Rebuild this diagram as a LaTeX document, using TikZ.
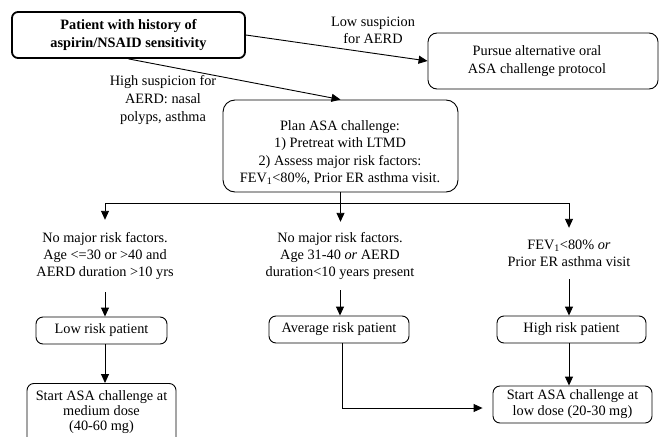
\documentclass[tikz,border=0pt]{standalone}
\usepackage{fontspec}
\setmainfont{Liberation Serif}[BoldFont={Liberation Serif Bold},ItalicFont={Liberation Serif Italic}]
\usetikzlibrary{arrows.meta}
\begin{document}
\begin{tikzpicture}[x=1pt,y=-1pt,
  every node/.style={font=\fontsize{14.3}{17.3}\selectfont, align=center, inner sep=0pt},
  box/.style={draw, line width=0.9pt, rounded corners=7pt},
  conn/.style={line width=0.9pt, -{Triangle[length=9pt,width=8pt]}},
  plainline/.style={line width=0.9pt}]
\useasboundingbox (0,0) rectangle (660,436);

% top row
\node[box, line width=1.8pt, rounded corners=6pt, minimum width=233pt, minimum height=46pt,
      font=\fontsize{14.3}{18}\selectfont\bfseries] (top) at (128.5,35)
      {Patient with history of\\aspirin/NSAID sensitivity};
\node[box, rounded corners=9pt, minimum width=230pt, minimum height=56pt] (alt) at (543,61)
      {Pursue alternative oral\hspace*{12pt}\\ASA challenge protocol\hspace*{12pt}};
\node[box, rounded corners=12pt, minimum width=235pt, minimum height=92pt] (plan) at (340.5,146) {};
\node (plantext) at (340,152.5)
      {Plan ASA challenge:\\1) Pretreat with LTMD\\2) Assess major risk factors:\\FEV\textsubscript{1}<80\%, Prior ER asthma visit.};

\node (lowlab) at (373,30) {Low suspicion\\for AERD};
\node[font=\fontsize{14.3}{18}\selectfont] (highlab) at (163,100) {High suspicion for\\AERD: nasal\\polyps, asthma};

% criteria texts
\node[minimum height=72pt] (lowT) at (105,256) {No major risk factors.\\Age <=30 or >40 and\\AERD duration >10 yrs};
\node[minimum height=68pt] (midT) at (340,256) {No major risk factors.\\Age 31-40 \textit{or} AERD\\duration<10 years present};
\node[minimum height=51pt] (highT) at (569,253.5) {FEV\textsubscript{1}<80\% \textit{or}\\Prior ER asthma visit};

% risk boxes
\node[box, minimum width=131pt, minimum height=27pt] (low) at (101.5,330.5) {Low risk patient};
\node[box, minimum width=140pt, minimum height=27pt] (avg) at (339,329.5) {Average risk patient};
\node[box, minimum width=149pt, minimum height=27pt] (high) at (571.5,329.5) {High risk patient};

% dose boxes
\node[box, minimum width=149pt, minimum height=70pt, anchor=north] (med) at (101.5,383) {};
\node[font=\fontsize{14.3}{15}\selectfont] (medT) at (101.5,412) {Start ASA challenge at\\medium dose\\(40-60 mg)};
\node[box, minimum width=159pt, minimum height=37pt, font=\fontsize{14.3}{16}\selectfont] (lowd) at (572.5,404.5)
      {Start ASA challenge at\\low dose (20-30 mg)};

% connectors
\draw[conn] (top.east) -- (alt.west);
\draw[conn] (top.south) -- (plan.north);
\draw[conn] (plan.south) -- ++(0,11) -| (lowT.north);
\draw[conn] (plan.south) -- ++(0,11) -| (highT.north);
\draw[conn] (plan.south) -- (plan.south |- midT.north);

\draw[conn] (lowT.south) -- (lowT.south |- low.north);
\draw[conn] (lowT.south |- low.south) -- (lowT.south |- med.north);
\draw[conn] (midT.south) -- (midT.south |- avg.north);
\draw[conn] ([xshift=3pt]avg.south) |- ([xshift=-10pt,yshift=-3.5pt]lowd.west);
\draw[conn] (highT.south) -- (highT.south |- high.north);
\draw[conn] (highT.south |- high.south) -- (highT.south |- lowd.north);
\end{tikzpicture}
\end{document}
